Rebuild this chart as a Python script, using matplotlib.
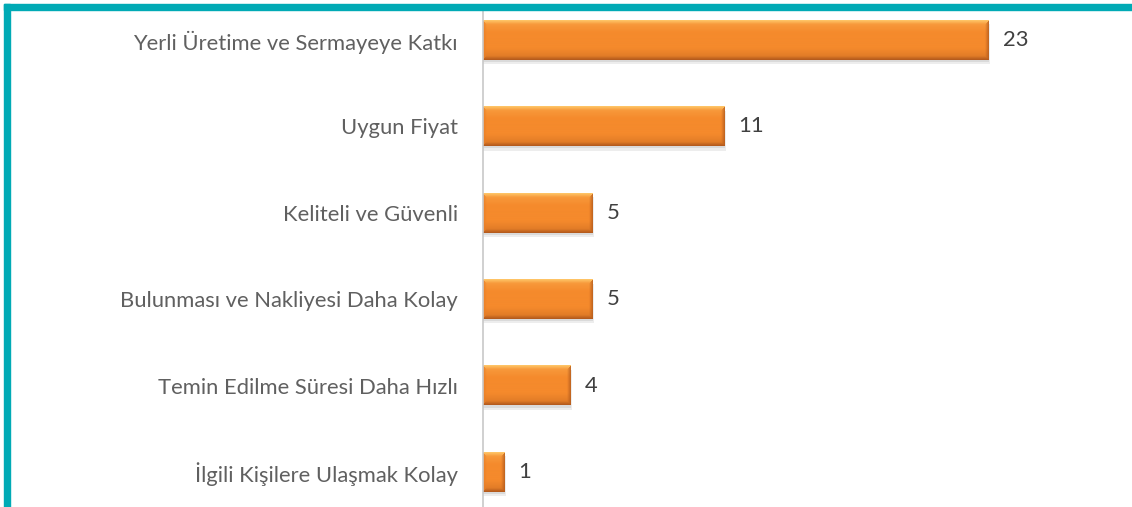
import numpy as np
import matplotlib.pyplot as plt
from matplotlib.patches import Rectangle
from matplotlib.colors import to_rgb

categories = [
    "Yerli Üretime ve Sermayeye Katkı",
    "Uygun Fiyat",
    "Keliteli ve Güvenli",
    "Bulunması ve Nakliyesi Daha Kolay",
    "Temin Edilme Süresi Daha Hızlı",
    "İlgili Kişilere Ulaşmak Kolay",
]
values = [23, 11, 5, 5, 4, 1]

W, H = 1132, 507
fig = plt.figure(figsize=(W / 100, H / 100), dpi=100)
fig.patch.set_facecolor("white")

# axes area in pixels: axis line at x=483, top just under the teal border
ax = fig.add_axes([483 / W, 0, (W - 483) / W, (H - 10) / H])
ax.set_xlim(0, (W - 483) / 22.0)
ax.set_ylim(5.405, -0.347)
for s in ["top", "right", "bottom"]:
    ax.spines[s].set_visible(False)
ax.spines["left"].set_color("#c8c8c8")
ax.spines["left"].set_linewidth(1.2)
ax.set_xticks([])
ax.set_yticks(range(len(categories)))
ax.set_yticklabels(categories, fontsize=15.8, color="#606060", family="Lato")
ax.tick_params(axis="y", length=0, pad=18)

bar_h = 0.46
base = np.array(to_rgb("#f58a2c"))
light = np.array(to_rgb("#ffc86a"))
dark = np.array(to_rgb("#b0581c"))
side = np.array(to_rgb("#ea7f26"))

fig.canvas.draw()
for i, v in enumerate(values):
    # soft shadow under the bar
    ax.barh(i + 0.05, v + 0.05, height=bar_h, color="#000000", alpha=0.07, zorder=1)
    ax.barh(i + 0.025, v + 0.02, height=bar_h, color="#000000", alpha=0.08, zorder=1)

    x0, y0 = ax.transData.transform((0, i - bar_h / 2))
    x1, y1 = ax.transData.transform((v, i + bar_h / 2))
    nx, ny = max(int(abs(x1 - x0)), 2), max(int(abs(y1 - y0)), 2)
    yy, xx = np.mgrid[0:ny, 0:nx]
    dt, db = yy + 0.5, ny - yy - 0.5
    dl, dr = xx + 0.5, nx - xx - 0.5
    # vertical shading in the body
    t = yy / (ny - 1)
    img = base + (light - base) * np.clip(0.3 - t, 0, 1)[..., None] * 1.2
    img = img - (base - dark) * np.clip(t - 0.7, 0, 1)[..., None] * 1.3
    b = 4
    m = np.minimum(np.minimum(dt, db), np.minimum(dl, dr))
    top = (dt == m) & (dt < b)
    bot = (db == m) & (db < b) & ~top
    lef = (dl == m) & (dl < b) & ~top & ~bot
    rig = (dr == m) & (dr < b) & ~top & ~bot & ~lef
    k = (1 - m / b)[..., None]
    img = np.where(top[..., None], img + (light - img) * k, img)
    img = np.where(bot[..., None], img + (dark - img) * k, img)
    img = np.where(lef[..., None], img + (side - img) * k, img)
    img = np.where(rig[..., None], img + (dark - img) * k * 0.8, img)
    ax.imshow(np.clip(img, 0, 1), extent=(0, v, i + bar_h / 2, i - bar_h / 2),
              aspect="auto", origin="upper", zorder=2, interpolation="bilinear")
    ax.text(v + 0.62, i, str(v), va="center", ha="left", fontsize=15.8,
            color="#404040", family="Lato")

ax.set_xlim(0, (W - 483) / 22.0)
ax.set_ylim(5.405, -0.347)

teal = "#00aab5"
fig.add_artist(Rectangle((4 / W, 0), 6 / W, (H - 4) / H, transform=fig.transFigure,
                         color=teal, zorder=10))
fig.add_artist(Rectangle((4 / W, (H - 10) / H), (W - 4) / W, 6 / H,
                         transform=fig.transFigure, color=teal, zorder=10))

fig.savefig("out.png", dpi=100)
